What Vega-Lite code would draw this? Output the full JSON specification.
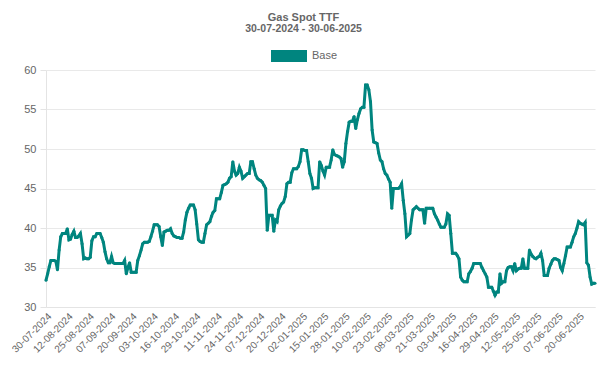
{
  "$schema": "https://vega.github.io/schema/vega-lite/v6.json",
  "width": 549,
  "height": 237,
  "autosize": {"type": "none"},
  "padding": {"left": 46, "top": 70, "right": 15, "bottom": 68},
  "background": "#ffffff",
  "title": {
    "text": "Gas Spot TTF",
    "subtitle": "30-07-2024 - 30-06-2025",
    "anchor": "middle",
    "dx": -17,
    "fontSize": 11,
    "subtitleFontSize": 10.5,
    "fontWeight": "bold",
    "subtitleFontWeight": "bold",
    "font": "Liberation Sans",
    "subtitleFont": "Liberation Sans",
    "color": "#666666",
    "subtitleColor": "#666666",
    "subtitlePadding": 1,
    "offset": 4
  },
  "data": {
    "values": [
      {"date": "30-07-2024", "price": 33.4}, {"date": "31-07-2024", "price": 34.2},
      {"date": "01-08-2024", "price": 35.1}, {"date": "02-08-2024", "price": 35.9}, {"date": "03-08-2024", "price": 35.9}, {"date": "04-08-2024", "price": 35.9}, {"date": "05-08-2024", "price": 35.8}, {"date": "06-08-2024", "price": 34.7}, {"date": "07-08-2024", "price": 37.2}, {"date": "08-08-2024", "price": 38.9}, {"date": "09-08-2024", "price": 39.3}, {"date": "10-08-2024", "price": 39.3}, {"date": "11-08-2024", "price": 39.3}, {"date": "12-08-2024", "price": 39.9}, {"date": "13-08-2024", "price": 38.5}, {"date": "14-08-2024", "price": 38.6}, {"date": "15-08-2024", "price": 39.2}, {"date": "16-08-2024", "price": 39.6}, {"date": "17-08-2024", "price": 38.8}, {"date": "18-08-2024", "price": 38.8}, {"date": "19-08-2024", "price": 39.0}, {"date": "20-08-2024", "price": 39.3}, {"date": "21-08-2024", "price": 38.0}, {"date": "22-08-2024", "price": 36.1}, {"date": "23-08-2024", "price": 36.2}, {"date": "24-08-2024", "price": 36.1}, {"date": "25-08-2024", "price": 36.1}, {"date": "26-08-2024", "price": 36.3}, {"date": "27-08-2024", "price": 38.4}, {"date": "28-08-2024", "price": 38.9}, {"date": "29-08-2024", "price": 38.9}, {"date": "30-08-2024", "price": 39.3}, {"date": "31-08-2024", "price": 39.3},
      {"date": "01-09-2024", "price": 39.3}, {"date": "02-09-2024", "price": 38.8}, {"date": "03-09-2024", "price": 38.2}, {"date": "04-09-2024", "price": 37.0}, {"date": "05-09-2024", "price": 36.1}, {"date": "06-09-2024", "price": 35.6}, {"date": "07-09-2024", "price": 35.6}, {"date": "08-09-2024", "price": 36.4}, {"date": "09-09-2024", "price": 35.6}, {"date": "10-09-2024", "price": 35.5}, {"date": "11-09-2024", "price": 35.5}, {"date": "12-09-2024", "price": 35.5}, {"date": "13-09-2024", "price": 35.5}, {"date": "14-09-2024", "price": 35.5}, {"date": "15-09-2024", "price": 35.5}, {"date": "16-09-2024", "price": 35.9}, {"date": "17-09-2024", "price": 34.2}, {"date": "18-09-2024", "price": 35.0}, {"date": "19-09-2024", "price": 35.6}, {"date": "20-09-2024", "price": 34.4}, {"date": "21-09-2024", "price": 34.4}, {"date": "22-09-2024", "price": 34.4}, {"date": "23-09-2024", "price": 34.4}, {"date": "24-09-2024", "price": 35.9}, {"date": "25-09-2024", "price": 36.5}, {"date": "26-09-2024", "price": 37.2}, {"date": "27-09-2024", "price": 38.0}, {"date": "28-09-2024", "price": 38.2}, {"date": "29-09-2024", "price": 38.2}, {"date": "30-09-2024", "price": 38.2},
      {"date": "01-10-2024", "price": 38.3}, {"date": "02-10-2024", "price": 38.9}, {"date": "03-10-2024", "price": 39.6}, {"date": "04-10-2024", "price": 40.4}, {"date": "05-10-2024", "price": 40.4}, {"date": "06-10-2024", "price": 40.4}, {"date": "07-10-2024", "price": 40.2}, {"date": "08-10-2024", "price": 38.9}, {"date": "09-10-2024", "price": 37.8}, {"date": "10-10-2024", "price": 39.5}, {"date": "11-10-2024", "price": 39.6}, {"date": "12-10-2024", "price": 39.7}, {"date": "13-10-2024", "price": 39.7}, {"date": "14-10-2024", "price": 39.9}, {"date": "15-10-2024", "price": 39.3}, {"date": "16-10-2024", "price": 39.0}, {"date": "17-10-2024", "price": 38.9}, {"date": "18-10-2024", "price": 38.8}, {"date": "19-10-2024", "price": 38.8}, {"date": "20-10-2024", "price": 38.7}, {"date": "21-10-2024", "price": 38.7}, {"date": "22-10-2024", "price": 39.5}, {"date": "23-10-2024", "price": 41.0}, {"date": "24-10-2024", "price": 42.0}, {"date": "25-10-2024", "price": 42.5}, {"date": "26-10-2024", "price": 42.9}, {"date": "27-10-2024", "price": 42.9}, {"date": "28-10-2024", "price": 42.9}, {"date": "29-10-2024", "price": 42.3}, {"date": "30-10-2024", "price": 40.5}, {"date": "31-10-2024", "price": 38.5},
      {"date": "01-11-2024", "price": 38.3}, {"date": "02-11-2024", "price": 38.2}, {"date": "03-11-2024", "price": 38.2}, {"date": "04-11-2024", "price": 39.3}, {"date": "05-11-2024", "price": 40.4}, {"date": "06-11-2024", "price": 40.6}, {"date": "07-11-2024", "price": 40.8}, {"date": "08-11-2024", "price": 41.5}, {"date": "09-11-2024", "price": 42.0}, {"date": "10-11-2024", "price": 42.2}, {"date": "11-11-2024", "price": 43.7}, {"date": "12-11-2024", "price": 43.7}, {"date": "13-11-2024", "price": 43.7}, {"date": "14-11-2024", "price": 44.5}, {"date": "15-11-2024", "price": 45.4}, {"date": "16-11-2024", "price": 45.5}, {"date": "17-11-2024", "price": 45.6}, {"date": "18-11-2024", "price": 45.8}, {"date": "19-11-2024", "price": 46.3}, {"date": "20-11-2024", "price": 46.5}, {"date": "21-11-2024", "price": 48.4}, {"date": "22-11-2024", "price": 47.2}, {"date": "23-11-2024", "price": 46.7}, {"date": "24-11-2024", "price": 46.9}, {"date": "25-11-2024", "price": 47.7}, {"date": "26-11-2024", "price": 47.2}, {"date": "27-11-2024", "price": 46.3}, {"date": "28-11-2024", "price": 46.5}, {"date": "29-11-2024", "price": 46.7}, {"date": "30-11-2024", "price": 46.9},
      {"date": "01-12-2024", "price": 46.9}, {"date": "02-12-2024", "price": 48.4}, {"date": "03-12-2024", "price": 48.4}, {"date": "04-12-2024", "price": 47.5}, {"date": "05-12-2024", "price": 46.7}, {"date": "06-12-2024", "price": 46.3}, {"date": "07-12-2024", "price": 46.1}, {"date": "08-12-2024", "price": 46.0}, {"date": "09-12-2024", "price": 45.8}, {"date": "10-12-2024", "price": 45.4}, {"date": "11-12-2024", "price": 45.0}, {"date": "12-12-2024", "price": 39.7}, {"date": "13-12-2024", "price": 41.6}, {"date": "14-12-2024", "price": 41.6}, {"date": "15-12-2024", "price": 41.6}, {"date": "16-12-2024", "price": 39.6}, {"date": "17-12-2024", "price": 41.0}, {"date": "18-12-2024", "price": 40.8}, {"date": "19-12-2024", "price": 42.3}, {"date": "20-12-2024", "price": 42.8}, {"date": "21-12-2024", "price": 43.1}, {"date": "22-12-2024", "price": 43.3}, {"date": "23-12-2024", "price": 44.0}, {"date": "24-12-2024", "price": 45.6}, {"date": "25-12-2024", "price": 45.8}, {"date": "26-12-2024", "price": 45.8}, {"date": "27-12-2024", "price": 47.0}, {"date": "28-12-2024", "price": 47.5}, {"date": "29-12-2024", "price": 47.5}, {"date": "30-12-2024", "price": 47.5}, {"date": "31-12-2024", "price": 47.8},
      {"date": "01-01-2025", "price": 48.4}, {"date": "02-01-2025", "price": 49.9}, {"date": "03-01-2025", "price": 49.9}, {"date": "04-01-2025", "price": 49.8}, {"date": "05-01-2025", "price": 49.8}, {"date": "06-01-2025", "price": 48.4}, {"date": "07-01-2025", "price": 46.9}, {"date": "08-01-2025", "price": 46.3}, {"date": "09-01-2025", "price": 45.0}, {"date": "10-01-2025", "price": 45.1}, {"date": "11-01-2025", "price": 45.1}, {"date": "12-01-2025", "price": 45.1}, {"date": "13-01-2025", "price": 48.4}, {"date": "14-01-2025", "price": 47.9}, {"date": "15-01-2025", "price": 47.2}, {"date": "16-01-2025", "price": 46.7}, {"date": "17-01-2025", "price": 47.7}, {"date": "18-01-2025", "price": 47.7}, {"date": "19-01-2025", "price": 47.7}, {"date": "20-01-2025", "price": 48.6}, {"date": "21-01-2025", "price": 49.9}, {"date": "22-01-2025", "price": 49.3}, {"date": "23-01-2025", "price": 49.2}, {"date": "24-01-2025", "price": 49.1}, {"date": "25-01-2025", "price": 49.0}, {"date": "26-01-2025", "price": 48.8}, {"date": "27-01-2025", "price": 47.7}, {"date": "28-01-2025", "price": 48.4}, {"date": "29-01-2025", "price": 50.7}, {"date": "30-01-2025", "price": 52.2}, {"date": "31-01-2025", "price": 53.4},
      {"date": "01-02-2025", "price": 53.5}, {"date": "02-02-2025", "price": 53.5}, {"date": "03-02-2025", "price": 54.1}, {"date": "04-02-2025", "price": 52.6}, {"date": "05-02-2025", "price": 53.7}, {"date": "06-02-2025", "price": 54.5}, {"date": "07-02-2025", "price": 55.1}, {"date": "08-02-2025", "price": 55.3}, {"date": "09-02-2025", "price": 55.3}, {"date": "10-02-2025", "price": 58.1}, {"date": "11-02-2025", "price": 58.1}, {"date": "12-02-2025", "price": 57.5}, {"date": "13-02-2025", "price": 56.0}, {"date": "14-02-2025", "price": 52.4}, {"date": "15-02-2025", "price": 50.9}, {"date": "16-02-2025", "price": 50.8}, {"date": "17-02-2025", "price": 50.7}, {"date": "18-02-2025", "price": 49.5}, {"date": "19-02-2025", "price": 48.6}, {"date": "20-02-2025", "price": 48.4}, {"date": "21-02-2025", "price": 47.5}, {"date": "22-02-2025", "price": 46.9}, {"date": "23-02-2025", "price": 46.7}, {"date": "24-02-2025", "price": 46.2}, {"date": "25-02-2025", "price": 45.8}, {"date": "26-02-2025", "price": 42.5}, {"date": "27-02-2025", "price": 45.0}, {"date": "28-02-2025", "price": 45.0},
      {"date": "01-03-2025", "price": 45.0}, {"date": "02-03-2025", "price": 45.0}, {"date": "03-03-2025", "price": 45.2}, {"date": "04-03-2025", "price": 45.6}, {"date": "05-03-2025", "price": 43.5}, {"date": "06-03-2025", "price": 41.8}, {"date": "07-03-2025", "price": 38.9}, {"date": "08-03-2025", "price": 39.1}, {"date": "09-03-2025", "price": 39.3}, {"date": "10-03-2025", "price": 41.0}, {"date": "11-03-2025", "price": 42.3}, {"date": "12-03-2025", "price": 42.5}, {"date": "13-03-2025", "price": 42.7}, {"date": "14-03-2025", "price": 42.5}, {"date": "15-03-2025", "price": 42.3}, {"date": "16-03-2025", "price": 42.3}, {"date": "17-03-2025", "price": 42.3}, {"date": "18-03-2025", "price": 40.6}, {"date": "19-03-2025", "price": 42.5}, {"date": "20-03-2025", "price": 42.5}, {"date": "21-03-2025", "price": 42.5}, {"date": "22-03-2025", "price": 42.5}, {"date": "23-03-2025", "price": 42.5}, {"date": "24-03-2025", "price": 41.8}, {"date": "25-03-2025", "price": 41.4}, {"date": "26-03-2025", "price": 41.0}, {"date": "27-03-2025", "price": 40.5}, {"date": "28-03-2025", "price": 40.1}, {"date": "29-03-2025", "price": 40.1}, {"date": "30-03-2025", "price": 40.1}, {"date": "31-03-2025", "price": 40.5},
      {"date": "01-04-2025", "price": 41.8}, {"date": "02-04-2025", "price": 41.6}, {"date": "03-04-2025", "price": 39.3}, {"date": "04-04-2025", "price": 36.8}, {"date": "05-04-2025", "price": 36.8}, {"date": "06-04-2025", "price": 36.8}, {"date": "07-04-2025", "price": 36.5}, {"date": "08-04-2025", "price": 36.1}, {"date": "09-04-2025", "price": 33.8}, {"date": "10-04-2025", "price": 33.4}, {"date": "11-04-2025", "price": 33.2}, {"date": "12-04-2025", "price": 33.2}, {"date": "13-04-2025", "price": 33.2}, {"date": "14-04-2025", "price": 34.2}, {"date": "15-04-2025", "price": 34.5}, {"date": "16-04-2025", "price": 34.9}, {"date": "17-04-2025", "price": 35.5}, {"date": "18-04-2025", "price": 35.5}, {"date": "19-04-2025", "price": 35.5}, {"date": "20-04-2025", "price": 35.5}, {"date": "21-04-2025", "price": 35.5}, {"date": "22-04-2025", "price": 35.0}, {"date": "23-04-2025", "price": 34.6}, {"date": "24-04-2025", "price": 34.2}, {"date": "25-04-2025", "price": 33.8}, {"date": "26-04-2025", "price": 32.5}, {"date": "27-04-2025", "price": 32.5}, {"date": "28-04-2025", "price": 32.5}, {"date": "29-04-2025", "price": 32.0}, {"date": "30-04-2025", "price": 31.5},
      {"date": "01-05-2025", "price": 31.9}, {"date": "02-05-2025", "price": 31.9}, {"date": "03-05-2025", "price": 34.2}, {"date": "04-05-2025", "price": 33.0}, {"date": "05-05-2025", "price": 33.2}, {"date": "06-05-2025", "price": 33.2}, {"date": "07-05-2025", "price": 34.6}, {"date": "08-05-2025", "price": 35.0}, {"date": "09-05-2025", "price": 35.1}, {"date": "10-05-2025", "price": 35.1}, {"date": "11-05-2025", "price": 34.6}, {"date": "12-05-2025", "price": 35.5}, {"date": "13-05-2025", "price": 34.6}, {"date": "14-05-2025", "price": 34.8}, {"date": "15-05-2025", "price": 34.9}, {"date": "16-05-2025", "price": 34.9}, {"date": "17-05-2025", "price": 36.1}, {"date": "18-05-2025", "price": 34.9}, {"date": "19-05-2025", "price": 34.9}, {"date": "20-05-2025", "price": 34.9}, {"date": "21-05-2025", "price": 37.2}, {"date": "22-05-2025", "price": 36.7}, {"date": "23-05-2025", "price": 36.4}, {"date": "24-05-2025", "price": 36.2}, {"date": "25-05-2025", "price": 36.1}, {"date": "26-05-2025", "price": 36.3}, {"date": "27-05-2025", "price": 36.4}, {"date": "28-05-2025", "price": 36.8}, {"date": "29-05-2025", "price": 35.9}, {"date": "30-05-2025", "price": 34.0}, {"date": "31-05-2025", "price": 34.0},
      {"date": "01-06-2025", "price": 34.0}, {"date": "02-06-2025", "price": 34.9}, {"date": "03-06-2025", "price": 35.4}, {"date": "04-06-2025", "price": 35.9}, {"date": "05-06-2025", "price": 36.1}, {"date": "06-06-2025", "price": 36.1}, {"date": "07-06-2025", "price": 36.0}, {"date": "08-06-2025", "price": 35.9}, {"date": "09-06-2025", "price": 35.0}, {"date": "10-06-2025", "price": 34.6}, {"date": "11-06-2025", "price": 35.5}, {"date": "12-06-2025", "price": 36.5}, {"date": "13-06-2025", "price": 37.6}, {"date": "14-06-2025", "price": 37.6}, {"date": "15-06-2025", "price": 37.6}, {"date": "16-06-2025", "price": 38.2}, {"date": "17-06-2025", "price": 38.9}, {"date": "18-06-2025", "price": 39.3}, {"date": "19-06-2025", "price": 40.0}, {"date": "20-06-2025", "price": 40.8}, {"date": "21-06-2025", "price": 40.6}, {"date": "22-06-2025", "price": 40.5}, {"date": "23-06-2025", "price": 40.4}, {"date": "24-06-2025", "price": 40.7}, {"date": "25-06-2025", "price": 35.6}, {"date": "26-06-2025", "price": 35.3}, {"date": "27-06-2025", "price": 33.8}, {"date": "28-06-2025", "price": 32.9}, {"date": "29-06-2025", "price": 33.0}, {"date": "30-06-2025", "price": 33.0}
    ]
  },
  "mark": {
    "type": "line",
    "strokeWidth": 3,
    "point": {"filled": true, "size": 9}
  },
  "encoding": {
    "x": {
      "field": "date",
      "type": "ordinal",
      "sort": null,
      "scale": {"type": "point", "padding": 0},
      "axis": {
        "title": null,
        "values": ["30-07-2024", "12-08-2024", "25-08-2024", "07-09-2024", "20-09-2024", "03-10-2024", "16-10-2024", "29-10-2024", "11-11-2024", "24-11-2024", "07-12-2024", "20-12-2024", "02-01-2025", "15-01-2025", "28-01-2025", "10-02-2025", "23-02-2025", "08-03-2025", "21-03-2025", "03-04-2025", "16-04-2025", "29-04-2025", "12-05-2025", "25-05-2025", "07-06-2025", "20-06-2025"],
        "labelAngle": -45,
        "labelFontSize": 10,
        "labelColor": "#666666",
        "labelFont": "Liberation Sans",
        "labelPadding": 4,
        "ticks": false,
        "grid": false,
        "domainColor": "#e4e4e4",
        "labelOverlap": false
      }
    },
    "y": {
      "field": "price",
      "type": "quantitative",
      "scale": {"domain": [30, 60], "nice": false, "zero": false},
      "axis": {
        "title": null,
        "values": [30, 35, 40, 45, 50, 55, 60],
        "labelFontSize": 11,
        "labelColor": "#666666",
        "labelFont": "Liberation Sans",
        "labelPadding": 4,
        "tickSize": 6,
        "tickColor": "#e4e4e4",
        "domainColor": "#e4e4e4",
        "gridColor": "#e9e9e9"
      }
    },
    "color": {
      "datum": "Base",
      "type": "nominal",
      "scale": {"range": ["#00857f"]},
      "legend": {
        "title": null,
        "orient": "none",
        "legendX": 225,
        "legendY": -32,
        "padding": 0,
        "symbolType": "M-1,-0.34H1V0.34H-1Z",
        "symbolSize": 1296,
        "symbolFillColor": "#00857f",
        "symbolStrokeColor": "#00857f",
        "symbolStrokeWidth": 0,
        "symbolOpacity": 1,
        "labelFontSize": 11,
        "labelColor": "#666666",
        "labelFont": "Liberation Sans",
        "labelOffset": 5
      }
    }
  },
  "config": {
    "view": {"stroke": null}
  }
}
